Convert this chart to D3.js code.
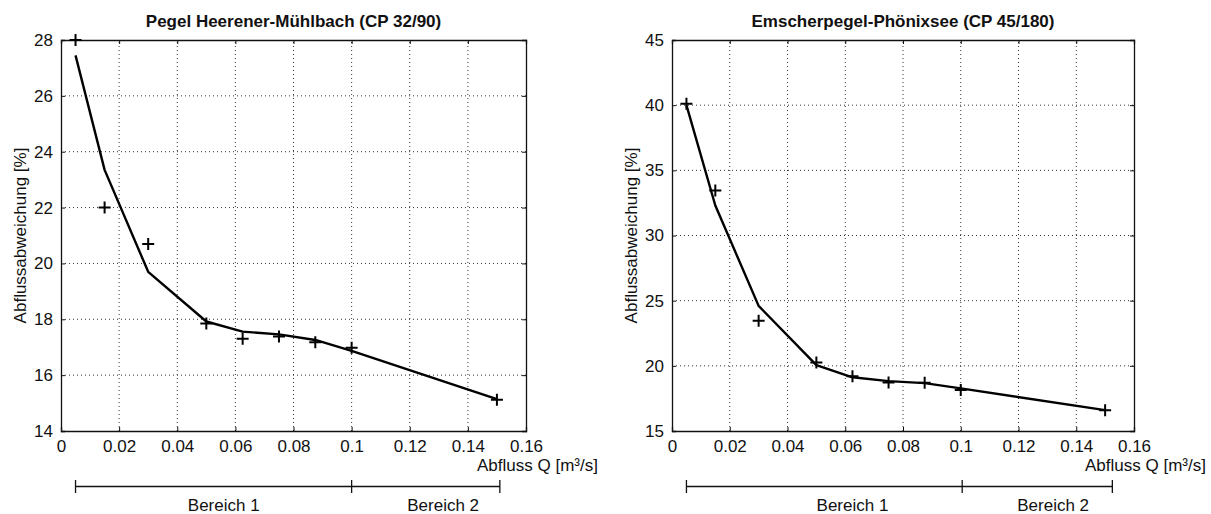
<!DOCTYPE html>
<html>
<head>
<meta charset="utf-8">
<script src="https://cdn.jsdelivr.net/npm/d3@7"></script>
<style>
  body { margin: 0; background: #fff; }
  text { font-family: "Liberation Sans", Arial, sans-serif; fill: #111; }
</style>
</head>
<body>
<div id="chart"></div>
<script>
// measured discharge steps [m3/s]
var qValues = [0.005, 0.015, 0.03, 0.05, 0.0625, 0.075, 0.0875, 0.1, 0.15];

// Pegel Heerener-Muehlbach
var leftMeasured = [28.0, 22.0, 20.7, 17.85, 17.3, 17.38, 17.18, 16.98, 15.12];
var leftFitted = [27.45, 23.35, 19.7, 17.92, 17.56, 17.46, 17.26, 16.87, 15.14];

// Emscherpegel-Phoenixsee
var rightMeasured = [40.1, 33.45, 23.45, 20.25, 19.2, 18.73, 18.7, 18.14, 16.6];
var rightFitted = [40.0, 32.3, 24.6, 20.05, 19.12, 18.83, 18.67, 18.27, 16.6];

var xTicks = [0, 0.02, 0.04, 0.06, 0.08, 0.1, 0.12, 0.14, 0.16];
var leftYTicks = [14, 16, 18, 20, 22, 24, 26, 28];
var rightYTicks = [15, 20, 25, 30, 35, 40, 45];

var rangeNames = ["Bereich 1", "Bereich 2"];
var leftRangeBounds = [0.005, 0.1, 0.151];
var rightRangeBounds = [0.005, 0.1005, 0.1525];
var leftRangeLabelQ = [0.056, 0.1315];
var rightRangeLabelQ = [0.0625, 0.132];

var svg = d3.select("#chart")
    .append("svg")
    .attr("width", 1211)
    .attr("height", 514);

function tickText(v) {
    return String(+v.toFixed(2));
}

function drawPanel(opt) {
    var x = d3.scaleLinear().domain([0, 0.16]).range([opt.left, opt.right]);
    var y = d3.scaleLinear().domain(opt.yDomain).range([431, 40]);
    var g = svg.append("g");

    // dotted grid
    g.selectAll(".vgrid")
        .data(xTicks.slice(1, -1))
        .enter().append("line")
        .attr("x1", function(d) { return x(d); })
        .attr("x2", function(d) { return x(d); })
        .attr("y1", y.range()[0])
        .attr("y2", y.range()[1])
        .attr("stroke", "#333")
        .attr("stroke-dasharray", "1,3");
    g.selectAll(".hgrid")
        .data(opt.yTicks.slice(1, -1))
        .enter().append("line")
        .attr("y1", function(d) { return y(d); })
        .attr("y2", function(d) { return y(d); })
        .attr("x1", x.range()[0])
        .attr("x2", x.range()[1])
        .attr("stroke", "#333")
        .attr("stroke-dasharray", "1,3");

    // axes, inward ticks like matlab
    var bottom = g.append("g")
        .attr("transform", "translate(0,431)")
        .call(d3.axisBottom(x).tickValues(xTicks).tickSize(-4).tickPadding(9).tickFormat(tickText));
    var top = g.append("g")
        .attr("transform", "translate(0,40)")
        .call(d3.axisTop(x).tickValues(xTicks).tickSize(-4).tickFormat(""));
    var leftAx = g.append("g")
        .attr("transform", "translate(" + opt.left + ",0)")
        .call(d3.axisLeft(y).tickValues(opt.yTicks).tickSize(-4).tickPadding(8).tickFormat(tickText));
    var rightAx = g.append("g")
        .attr("transform", "translate(" + opt.right + ",0)")
        .call(d3.axisRight(y).tickValues(opt.yTicks).tickSize(-4).tickFormat(""));
    [bottom, top, leftAx, rightAx].forEach(function(a) {
        a.select(".domain").attr("stroke", "#111").attr("stroke-width", 1.3);
        a.selectAll(".tick line").attr("stroke", "#111");
        a.selectAll("text").style("font-size", "17px").attr("fill", "#111");
    });

    // fitted line
    var line = d3.line()
        .x(function(d, i) { return x(qValues[i]); })
        .y(function(d) { return y(d); });
    g.append("path")
        .datum(opt.fitted)
        .attr("d", line)
        .attr("fill", "none")
        .attr("stroke", "#000")
        .attr("stroke-width", 2.4)
        .attr("stroke-linejoin", "round");

    // measured values as + markers
    g.selectAll(".mark")
        .data(opt.measured)
        .enter().append("path")
        .attr("transform", function(d, i) { return "translate(" + x(qValues[i]) + "," + y(d) + ")"; })
        .attr("d", "M-6,0H6M0,-6V6")
        .attr("stroke", "#000")
        .attr("stroke-width", 2)
        .attr("fill", "none");

    // titles and labels
    g.append("text")
        .attr("x", (opt.left + opt.right) / 2)
        .attr("y", 27)
        .attr("text-anchor", "middle")
        .style("font-size", "17px")
        .style("font-weight", "bold")
        .text(opt.title);
    g.append("text")
        .attr("transform", "translate(" + (opt.left - 35) + ",235.5) rotate(-90)")
        .attr("text-anchor", "middle")
        .style("font-size", "17px")
        .text("Abflussabweichung [%]");
    g.append("text")
        .attr("x", opt.right - 49)
        .attr("y", 471)
        .style("font-size", "17px")
        .text("Abfluss Q [m³/s]");

    // Bereich bar below the axis
    var b = opt.bounds;
    g.append("line")
        .attr("x1", x(b[0])).attr("x2", x(b[b.length - 1]))
        .attr("y1", 486.5).attr("y2", 486.5)
        .attr("stroke", "#111").attr("stroke-width", 1.3);
    g.selectAll(".btick")
        .data(b)
        .enter().append("line")
        .attr("x1", function(d) { return x(d); })
        .attr("x2", function(d) { return x(d); })
        .attr("y1", 480).attr("y2", 493)
        .attr("stroke", "#111").attr("stroke-width", 1.3);
    g.selectAll(".blabel")
        .data(rangeNames)
        .enter().append("text")
        .attr("x", function(d, i) { return x(opt.labelQ[i]); })
        .attr("y", 511)
        .attr("text-anchor", "middle")
        .style("font-size", "17px")
        .text(function(d) { return d; });
}

drawPanel({
    left: 61, right: 526,
    yDomain: [14, 28], yTicks: leftYTicks,
    measured: leftMeasured, fitted: leftFitted,
    bounds: leftRangeBounds, labelQ: leftRangeLabelQ,
    title: "Pegel Heerener-Mühlbach (CP 32/90)"
});
drawPanel({
    left: 672, right: 1134,
    yDomain: [15, 45], yTicks: rightYTicks,
    measured: rightMeasured, fitted: rightFitted,
    bounds: rightRangeBounds, labelQ: rightRangeLabelQ,
    title: "Emscherpegel-Phönixsee (CP 45/180)"
});
</script>
</body>
</html>
